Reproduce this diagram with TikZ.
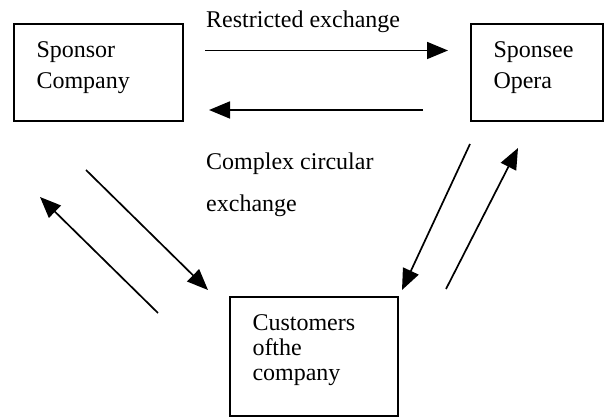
\documentclass[tikz,border=0pt]{standalone}
\usepackage{fontspec}
\setmainfont{Liberation Serif}
\usetikzlibrary{
  arrows.meta, % Fuer Pfeilspitzen
}

\begin{document}
\begin{tikzpicture}[
      x=1pt, y=-1pt, % Pixelraster, y nach unten
      >={Triangle[length=21pt, width=17pt]}, % Standard-Pfeilspitze
      party/.style={draw, line width=2.2pt, inner xsep=22.5pt, inner ysep=0pt,
        align=left, font=\fontsize{24}{31}\selectfont}, % Kasten der Partner
      flow/.style={->, line width=1.7pt}, % Austauschpfeile
      caption/.style={anchor=base west, inner sep=0pt,
        font=\fontsize{24}{29}\selectfont}, % Beschriftung
    ]
    \useasboundingbox (0,0) rectangle (604,419);

    % Partner
    \node[party, text width=124pt, text height=34pt, text depth=63pt]
      (sponsor) at (98.5,72.5) {Sponsor\\Company};
    \node[party, text width=87pt, text height=34pt, text depth=63pt]
      (sponsee) at (537,72.5) {Sponsee\\Opera};
    \node[party, text width=123pt, text height=33pt, text depth=86pt,
      font=\fontsize{24}{25}\selectfont]
      (customers) at (314,356.5) {Customers\\ofthe\\company};

    % Anfangs- und Endpunkte der Pfeile
    \coordinate (A1) at (205,50.5);
    \coordinate (A2) at (448,50.5);
    \coordinate (B1) at (423,110);
    \coordinate (B2) at (209,110);
    \coordinate (C1) at (86,170);
    \coordinate (C2) at (208,290);
    \coordinate (D1) at (158,313);
    \coordinate (D2) at (40,197);
    \coordinate (E1) at (470,144);
    \coordinate (E2) at (402,290);
    \coordinate (F1) at (446,289);
    \coordinate (F2) at (518,148);

    % Austausch
    \foreach \i/\j in {A1/A2, B1/B2, C1/C2, D1/D2, E1/E2, F1/F2}
    \draw[flow] (\i) -- (\j);

    % Beschriftungen
    \node[caption] (restricted) at (206,28) {Restricted exchange};
    \node[caption] (complex) at (206,170) {Complex circular};
    \node[caption] (exchange) at (206,212) {exchange};
  \end{tikzpicture}
\end{document}
